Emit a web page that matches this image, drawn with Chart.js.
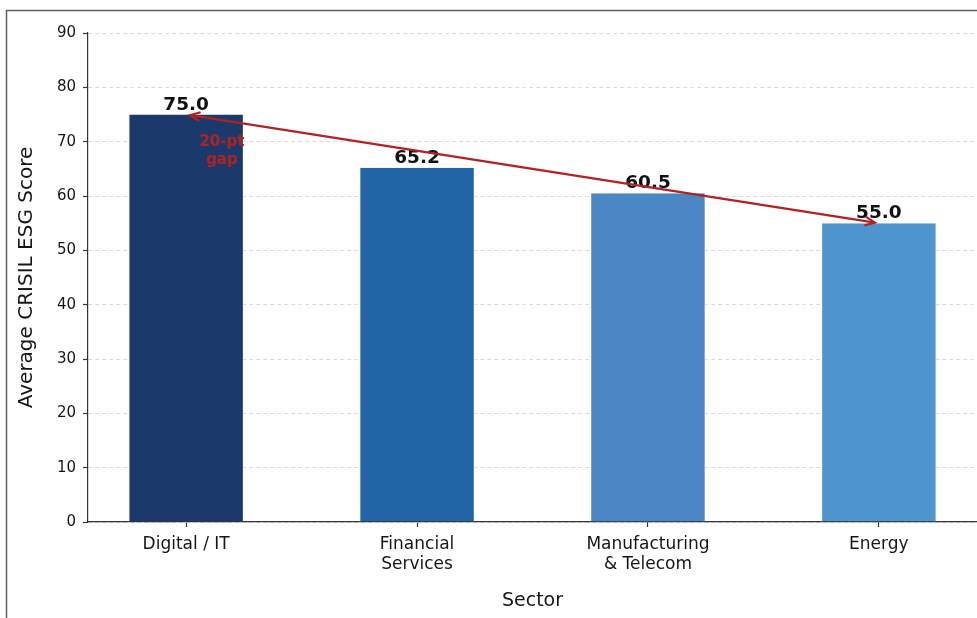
<!DOCTYPE html>
<html>
<head>
<meta charset="utf-8">
<script src="https://cdn.jsdelivr.net/npm/chart.js@4.4.1/dist/chart.umd.min.js"></script>
<style>
  html, body { margin: 0; padding: 0; background: #fff; }
  #wrap { position: relative; width: 977px; height: 618px; }
</style>
</head>
<body>
<div id="wrap"><canvas id="esg-chart" width="977" height="618"></canvas></div>
<script>
const sectors = ["Digital / IT", "Financial Services", "Manufacturing & Telecom", "Energy"];
const tickLabels = [["Digital / IT"], ["Financial", "Services"], ["Manufacturing", "& Telecom"], ["Energy"]];
const scores = [75.0, 65.2, 60.5, 55.0];
const barColors = ["#1b3a6b", "#2265a7", "#4a86c4", "#4f95cd"];
const yRange = { min: 0, max: 90, step: 10 };
const gapNote = ["20-pt", "gap"];
const gapNoteAt = { x: 0.155, y: 68.3 };

const FONT = "'DejaVu Sans', 'Liberation Sans', sans-serif";
const RED = "#b22222";
const AXIS = "#333";
const TEXT = "#161616";

const annotations = {
  id: "annotations",
  beforeDraw(chart) {
    const ctx = chart.ctx;
    ctx.save();
    ctx.fillStyle = "#fff";
    ctx.fillRect(0, 0, chart.width, chart.height);
    // screenshot frame (top and left edges)
    ctx.strokeStyle = "#5f5f5f";
    ctx.lineWidth = 1.5;
    ctx.beginPath();
    ctx.moveTo(6.5, chart.height);
    ctx.lineTo(6.5, 10.5);
    ctx.lineTo(chart.width, 10.5);
    ctx.stroke();
    ctx.restore();
  },
  afterDatasetsDraw(chart) {
    const { ctx, scales: { x, y } } = chart;
    ctx.save();

    // value labels
    ctx.font = "bold 18.5px " + FONT;
    ctx.fillStyle = "#111";
    ctx.textAlign = "center";
    ctx.textBaseline = "alphabetic";
    scores.forEach((v, i) => {
      ctx.fillText(v.toFixed(1), x.getPixelForValue(i), y.getPixelForValue(v) - 5);
    });

    // double-headed arrow between highest and lowest bar
    const hi = scores.indexOf(Math.max(...scores));
    const lo = scores.indexOf(Math.min(...scores));
    let x1 = x.getPixelForValue(hi), y1 = y.getPixelForValue(scores[hi]);
    let x2 = x.getPixelForValue(lo), y2 = y.getPixelForValue(scores[lo]);
    const len = Math.hypot(x2 - x1, y2 - y1);
    const ux = (x2 - x1) / len, uy = (y2 - y1) / len;
    x1 += ux * 4; y1 += uy * 4;
    x2 -= ux * 4; y2 -= uy * 4;
    ctx.strokeStyle = RED;
    ctx.lineWidth = 2.2;
    ctx.beginPath();
    ctx.moveTo(x1, y1);
    ctx.lineTo(x2, y2);
    ctx.stroke();
    const head = (tx, ty, dx, dy) => {
      const hl = 10, hw = 4.5;
      const bx = tx + dx * hl, by = ty + dy * hl;
      ctx.beginPath();
      ctx.moveTo(bx - dy * hw, by + dx * hw);
      ctx.lineTo(tx, ty);
      ctx.lineTo(bx + dy * hw, by - dx * hw);
      ctx.stroke();
    };
    head(x1, y1, ux, uy);
    head(x2, y2, -ux, -uy);

    // gap note
    ctx.font = "bold 15px " + FONT;
    ctx.fillStyle = RED;
    ctx.textBaseline = "middle";
    const nx = x.getPixelForValue(gapNoteAt.x);
    const ny = y.getPixelForValue(gapNoteAt.y);
    gapNote.forEach((line, i) => {
      ctx.fillText(line, nx, ny + (i - (gapNote.length - 1) / 2) * 18);
    });

    ctx.restore();
  }
};

new Chart(document.getElementById("esg-chart"), {
  type: "bar",
  data: {
    datasets: [{
      label: "Average CRISIL ESG Score",
      data: scores.map((v, i) => ({ x: i, y: v })),
      backgroundColor: barColors,
      borderColor: "rgba(255,255,255,0.6)",
      borderWidth: { left: 1, right: 1, top: 0, bottom: 0 },
      barPercentage: 0.5,
      categoryPercentage: 1.0
    }]
  },
  options: {
    responsive: false,
    animation: false,
    devicePixelRatio: 1,
    layout: { padding: { top: 33, right: 0, bottom: 0, left: 1 } },
    plugins: {
      legend: { display: false },
      tooltip: { enabled: false }
    },
    scales: {
      x: {
        type: "linear",
        offset: false,
        min: -0.425,
        max: 3.425,
        afterBuildTicks: (s) => { s.ticks = scores.map((_, i) => ({ value: i })); },
        afterFit: (s) => { s.height = 96; },
        ticks: {
          callback: (v) => tickLabels[v],
          autoSkip: false,
          maxRotation: 0,
          padding: 8,
          color: TEXT,
          font: { family: FONT, size: 17, lineHeight: 1.16 }
        },
        grid: { offset: false, drawOnChartArea: false, tickLength: 5, tickColor: AXIS, tickWidth: 1.2 },
        border: { color: AXIS, width: 1.2 },
        title: {
          display: true,
          text: "Sector",
          color: TEXT,
          font: { family: FONT, size: 19 },
          padding: { top: 0, bottom: 6 }
        }
      },
      y: {
        min: yRange.min,
        max: yRange.max,
        afterFit: (s) => { s.width = 87; },
        ticks: {
          stepSize: yRange.step,
          padding: 7,
          color: TEXT,
          font: { family: FONT, size: 15 }
        },
        grid: { color: "#dadada", lineWidth: 1, tickLength: 5, tickColor: AXIS, tickWidth: 1.2, tickBorderDash: [] },
        border: { color: AXIS, width: 1.2, dash: [4, 3] },
        title: {
          display: true,
          text: "Average CRISIL ESG Score",
          color: TEXT,
          font: { family: FONT, size: 20 },
          padding: { top: 14, bottom: 0 }
        }
      }
    }
  },
  plugins: [annotations]
});
</script>
</body>
</html>
